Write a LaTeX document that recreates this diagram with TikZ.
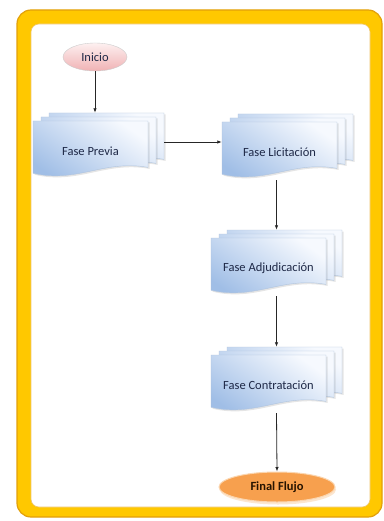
\documentclass[tikz,border=0pt]{standalone}
\usepackage{fontspec}
\setmainfont{Carlito}
\usetikzlibrary{shapes.geometric,arrows.meta,shadows}
\definecolor{framegold}{RGB}{255, 200, 0}
\definecolor{frameedge}{RGB}{226, 160, 10}
\definecolor{doctop}{RGB}{246, 249, 254}
\definecolor{docbottom}{RGB}{160, 190, 230}
\definecolor{docline}{RGB}{176, 196, 222}
\definecolor{pinktop}{RGB}{253, 240, 240}
\definecolor{pinkbottom}{RGB}{240, 178, 180}
\definecolor{orangefill}{RGB}{247, 160, 78}
\definecolor{orangeline}{RGB}{251, 214, 176}
\definecolor{inktext}{RGB}{30, 40, 70}

\tikzset{
  docsheet/.style={top color=doctop, bottom color=docbottom, shading angle=-35, draw=docline, line width=0.4pt,
                   drop shadow={shadow xshift=1.5pt, shadow yshift=-1.5pt, opacity=0.2}},
  docfit/.style={rectangle, minimum width=131pt, minimum height=66pt, inner sep=0pt},
  doctext/.style={font=\fontsize{12.5}{14}\selectfont, text=inktext},
  terminal/.style={ellipse, inner sep=0pt, font=\fontsize{12.5}{14}\selectfont},
  flow/.style={-{Latex[length=4.5pt,width=3.5pt]}, line width=0.8pt, black!85}
}

% multi-document shape: #1 name, #2 x, #3 y (top left of front sheet), #4 text
\def\docw{115}
\def\doch{58}
\newcommand{\fasedoc}[4]{%
  \foreach \sh in {16,8,0}{
    \path[docsheet] ({#2+\sh},{#3-\sh/2}) -- ({#2+\sh+\docw},{#3-\sh/2})
      -- ({#2+\sh+\docw},{#3-\sh/2+0.8*\doch})
      .. controls ({#2+\sh+0.62*\docw},{#3-\sh/2+0.66*\doch}) and ({#2+\sh+0.38*\docw},{#3-\sh/2+1.08*\doch})
      .. ({#2+\sh},{#3-\sh/2+0.9*\doch}) -- cycle;
  }
  \node[docfit] (#1) at ({#2+65.5},{#3+25}) {};
  \node[doctext] (#1-t) at ({#2+\docw/2},{#3+0.52*\doch}) {#4};
}

\begin{document}
\begin{tikzpicture}[x=1pt, y=-1pt]
  \useasboundingbox (0,0) rectangle (383,521);

  % yellow frame
  \draw[fill=framegold, draw=frameedge, line width=1.2pt, rounded corners=14pt] (17,10) rectangle (382,517);
  \draw[fill=white, draw=frameedge!60, line width=0.6pt, rounded corners=8pt] (31,24) rectangle (370,507);

  % start / end
  \node[terminal, minimum width=64pt, minimum height=28pt, top color=pinktop, bottom color=pinkbottom,
        draw=black!20, text=inktext] (inicio) at (95,57) {Inicio};
  \node[terminal, minimum width=116pt, minimum height=30pt, fill=orangefill, draw=orangeline, line width=1pt,
        drop shadow={shadow xshift=1pt, shadow yshift=-2.5pt, fill=orangeline, opacity=0.6},
        text=black!75!orange!60!black, font=\fontsize{12.5}{14}\selectfont\bfseries] (final) at (277,487) {Final Flujo};

  % phases
  \fasedoc{previa}{33}{121}{Fase Previa}
  \fasedoc{licit}{222}{122}{Fase Licitación}
  \fasedoc{adjud}{211}{238}{Fase Adjudicación}
  \fasedoc{contr}{211}{355}{Fase Contratación}

  % connectors
  \draw[flow] (inicio) -- (inicio |- previa.north);
  \draw[flow] ([yshift=4pt]previa.east) -- ([yshift=4pt]previa.east -| licit.west);
  \draw[flow] (licit.south -| adjud.north) -- (adjud.north);
  \draw[flow] (adjud.south) -- (contr.north);
  \draw[flow] (contr.south) -- (final.north);
\end{tikzpicture}
\end{document}
